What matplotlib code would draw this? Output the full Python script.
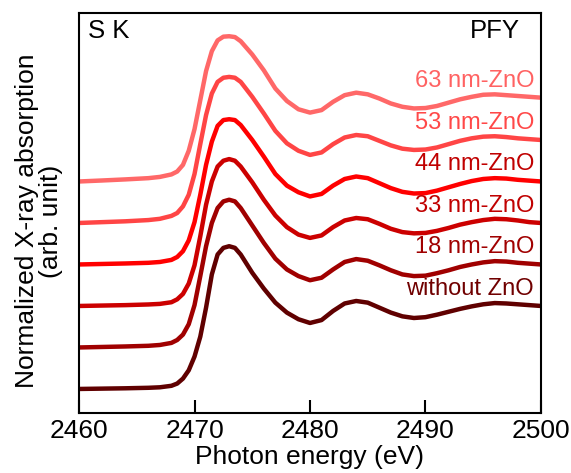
import matplotlib
matplotlib.use("Agg")
import matplotlib.pyplot as plt

plt.rcParams['font.family'] = ['Liberation Sans', 'DejaVu Sans']

energy = [2460, 2462, 2464, 2466, 2467, 2468, 2468.5, 2469, 2469.5, 2470, 2470.5,
          2471, 2471.5, 2472, 2472.5, 2473, 2473.5, 2474, 2475, 2476, 2477, 2478,
          2479, 2480, 2481, 2482, 2483, 2484, 2485, 2486, 2487, 2488, 2489, 2490,
          2491, 2492, 2493, 2494, 2495, 2496, 2497, 2498, 2499, 2500]

without_zno = [0, 0.004, 0.008, 0.014, 0.02, 0.038, 0.065, 0.125, 0.225, 0.39, 0.63,
               0.98, 1.38, 1.62, 1.70, 1.72, 1.70, 1.62, 1.40, 1.21, 1.04, 0.92,
               0.84, 0.795, 0.83, 0.94, 1.03, 1.06, 1.04, 0.98, 0.92, 0.875, 0.855, 0.865,
               0.895, 0.93, 0.965, 0.995, 1.02, 1.035, 1.03, 1.02, 1.01, 1.0]
zno_18 = [0, 0.006, 0.012, 0.02, 0.03, 0.055, 0.09, 0.155, 0.28, 0.51, 0.86,
          1.22, 1.50, 1.68, 1.76, 1.78, 1.76, 1.68, 1.47, 1.26, 1.07, 0.94,
          0.86, 0.81, 0.84, 0.94, 1.03, 1.065, 1.045, 0.99, 0.93, 0.88, 0.86, 0.865,
          0.895, 0.93, 0.97, 1.0, 1.025, 1.04, 1.035, 1.02, 1.01, 1.0]
zno_33 = [0, 0.005, 0.01, 0.018, 0.025, 0.045, 0.08, 0.145, 0.27, 0.49, 0.84,
          1.22, 1.50, 1.68, 1.75, 1.77, 1.75, 1.68, 1.49, 1.28, 1.09, 0.95,
          0.86, 0.82, 0.85, 0.95, 1.03, 1.06, 1.045, 0.99, 0.93, 0.89, 0.875, 0.88,
          0.905, 0.94, 0.98, 1.01, 1.035, 1.05, 1.045, 1.03, 1.01, 1.0]
zno_44 = [0, 0.006, 0.012, 0.02, 0.03, 0.055, 0.09, 0.16, 0.29, 0.51, 0.84,
          1.20, 1.48, 1.67, 1.74, 1.75, 1.74, 1.68, 1.50, 1.30, 1.09, 0.95,
          0.87, 0.82, 0.85, 0.95, 1.03, 1.06, 1.04, 0.98, 0.92, 0.875, 0.855, 0.86,
          0.89, 0.93, 0.97, 1.005, 1.03, 1.04, 1.035, 1.02, 1.01, 1.0]
zno_53 = [0, 0.01, 0.02, 0.035, 0.05, 0.085, 0.12, 0.2, 0.34, 0.59, 0.95,
          1.30, 1.56, 1.70, 1.75, 1.76, 1.75, 1.70, 1.52, 1.32, 1.11, 0.96,
          0.87, 0.82, 0.85, 0.95, 1.03, 1.06, 1.045, 0.99, 0.935, 0.895, 0.88, 0.885,
          0.91, 0.95, 0.99, 1.02, 1.04, 1.045, 1.035, 1.02, 1.01, 1.0]
zno_63 = [0, 0.012, 0.025, 0.04, 0.055, 0.085, 0.12, 0.2, 0.37, 0.63, 0.98,
          1.33, 1.57, 1.70, 1.745, 1.75, 1.74, 1.69, 1.53, 1.34, 1.12, 0.97,
          0.87, 0.83, 0.86, 0.96, 1.04, 1.07, 1.05, 1.0, 0.94, 0.90, 0.88, 0.885,
          0.91, 0.95, 0.99, 1.02, 1.045, 1.05, 1.04, 1.03, 1.02, 1.01]

labels = ["without ZnO", "18 nm-ZnO", "33 nm-ZnO", "44 nm-ZnO", "53 nm-ZnO", "63 nm-ZnO"]
series = [without_zno, zno_18, zno_33, zno_44, zno_53, zno_63]
offsets = [0, 0.5, 1.0, 1.5, 2.0, 2.5]
line_colors = ["#600000", "#a00000", "#cc0000", "#ff0000", "#ff4545", "#ff6868"]
text_colors = ["#700000", "#a00000", "#c00000", "#c00000", "#ff4848", "#ff6262"]

fig = plt.figure(figsize=(5.71, 4.73), dpi=100)
ax = fig.add_axes([0.1384, 0.1268, 0.809, 0.8457])

for y, off, lc, tc, lab in zip(series, offsets, line_colors, text_colors, labels):
    ax.plot(energy, [v + off for v in y], color=lc, lw=3.2,
            solid_capstyle='round', solid_joinstyle='round')
    ax.text(2499.4, off + 1.21, lab, color=tc, fontsize=17, ha='right', va='center')

ax.set_xlim(2460, 2500)
ax.set_ylim(-0.29, 4.53)
ax.set_xticks([2460, 2470, 2480, 2490, 2500])
ax.set_yticks([])
ax.tick_params(axis='x', direction='in', length=9.5, width=1.5, labelsize=19, pad=4)
for s in ax.spines.values():
    s.set_linewidth(1.5)

ax.set_xlabel("Photon energy (eV)", fontsize=19)
ax.xaxis.set_label_coords(0.5, -0.08)
ax.set_ylabel("Normalized X-ray absorption\n(arb. unit)", fontsize=19,
              linespacing=1.0, multialignment='center')
ax.yaxis.set_label_coords(-0.035, 0.48)

ax.text(0.019, 0.985, "S K", transform=ax.transAxes, fontsize=18.5, ha='left', va='top')
ax.text(0.955, 0.985, "PFY", transform=ax.transAxes, fontsize=18.5, ha='right', va='top')

fig.savefig("out.png", dpi=100)
